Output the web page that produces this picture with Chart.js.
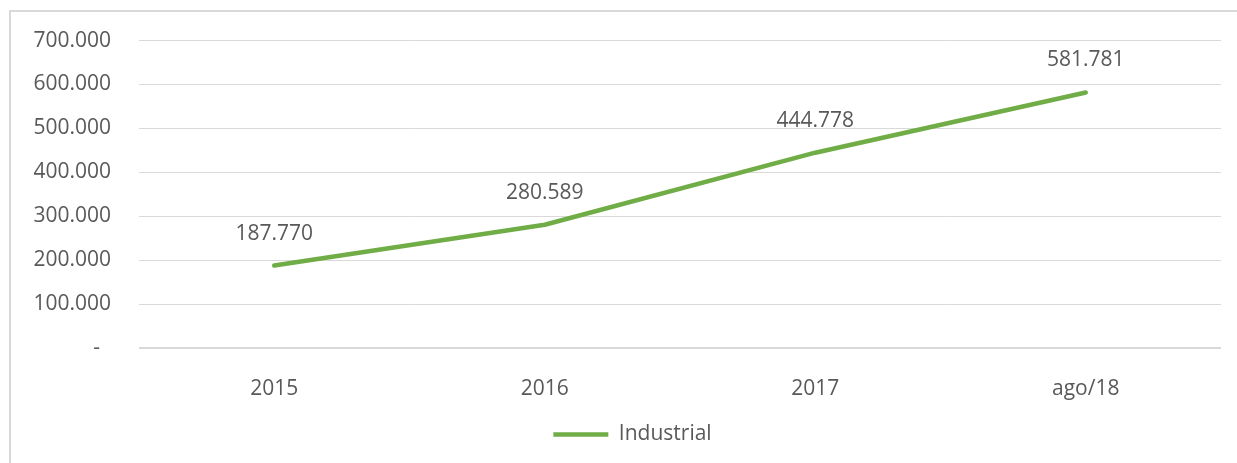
<!DOCTYPE html>
<html>
<head>
<meta charset="utf-8">
<script src="https://cdn.jsdelivr.net/npm/chart.js@4/dist/chart.umd.min.js"></script>
<style>
  html, body { margin: 0; padding: 0; background: #fff; }
  #wrap { position: relative; width: 1237px; height: 463px; overflow: hidden; }
  #frame { position: absolute; left: 9px; top: 10px; width: 1240px; height: 470px;
           border-left: 2px solid #d9d9d9; border-top: 2px solid #d9d9d9; box-sizing: border-box; }
  canvas { position: absolute; left: 0; top: 0; }
</style>
</head>
<body>
<div id="wrap">
  <div id="frame"></div>
  <canvas id="c" width="1237" height="463"></canvas>
</div>
<script>
const categories = ['2015', '2016', '2017', 'ago/18'];
const industrialValues = [187770, 280589, 444778, 581781];
const seriesName = 'Industrial';
const yTickMin = 0, yTickMax = 700000, yTickStep = 100000;

const TEXT = '#595959';
const GREEN = '#70AD47';
const FONT = { family: "'Open Sans', sans-serif", size: 21 };

function fmt(v) {
  if (v === 0) return '-  ';
  return String(Math.round(v)).replace(/\B(?=(\d{3})+(?!\d))/g, '.');
}

const dataLabels = {
  id: 'dataLabels',
  afterDatasetsDraw(chart) {
    const ctx = chart.ctx;
    ctx.save();
    ctx.font = `${FONT.size}px ${FONT.family}`;
    ctx.fillStyle = TEXT;
    ctx.textAlign = 'center';
    ctx.textBaseline = 'middle';
    chart.data.datasets.forEach((ds, di) => {
      const meta = chart.getDatasetMeta(di);
      meta.data.forEach((pt, i) => {
        ctx.fillText(fmt(ds.data[i]), pt.x, pt.y - 32);
      });
    });
    ctx.restore();
  }
};

// Shift the legend box so it is centred like the reference
const legendShift = {
  id: 'legendShift',
  afterLayout(chart) {
    if (chart.legend) { chart.legend.left += 44; }
  }
};

Chart.defaults.font.family = FONT.family;
Chart.defaults.font.size = FONT.size;
Chart.defaults.color = TEXT;

new Chart(document.getElementById('c'), {
  type: 'line',
  data: {
    labels: categories,
    datasets: [{
      label: seriesName,
      data: industrialValues,
      borderColor: GREEN,
      backgroundColor: GREEN,
      borderWidth: 4.5,
      borderCapStyle: 'round',
      borderJoinStyle: 'round',
      pointRadius: 0,
      pointHoverRadius: 0,
      tension: 0,
      fill: false
    }]
  },
  options: {
    responsive: false,
    animation: false,
    devicePixelRatio: 1,
    layout: { padding: { top: 40, right: 16, bottom: 8, left: 0 } },
    plugins: {
      legend: {
        position: 'bottom',
        labels: {
          usePointStyle: true,
          pointStyle: 'line',
          pointStyleWidth: 55,
          padding: 10,
          color: TEXT,
          font: FONT
        }
      },
      tooltip: { enabled: false }
    },
    scales: {
      x: {
        offset: true,
        grid: { display: false },
        border: { display: false },
        ticks: { padding: 20, color: TEXT, font: FONT, maxRotation: 0 },
        afterFit(scale) { scale.height = 66; }
      },
      y: {
        min: yTickMin,
        max: yTickMax,
        border: { display: false },
        grid: {
          drawTicks: false,
          color: '#d9d9d9',
          lineWidth: (c) => (c.tick && c.tick.value === 0 ? 2 : 1)
        },
        ticks: {
          stepSize: yTickStep,
          padding: 28,
          color: TEXT,
          font: FONT,
          callback: (v) => fmt(v)
        },
        afterFit(scale) { scale.width = 139; }
      }
    }
  },
  plugins: [dataLabels, legendShift]
});
</script>
</body>
</html>
